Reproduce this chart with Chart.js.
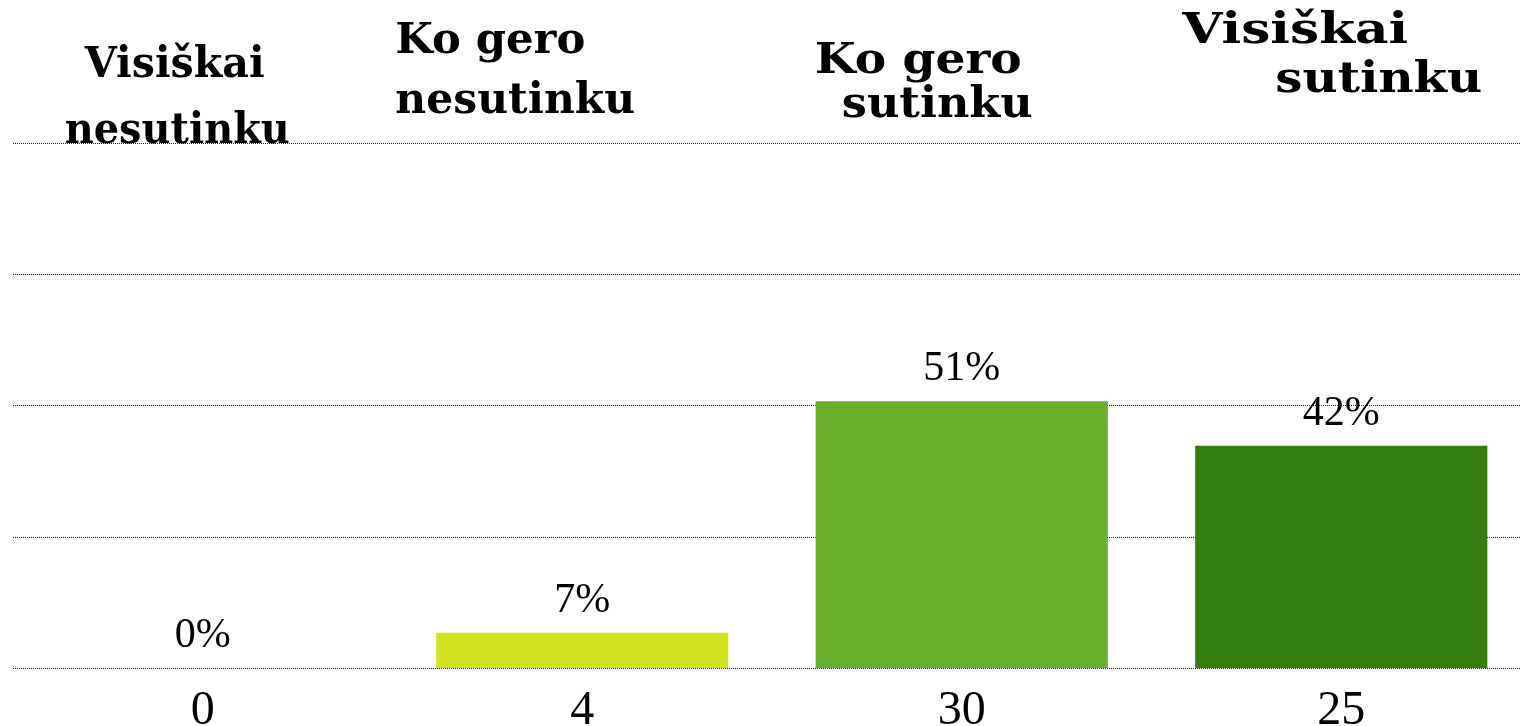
<!DOCTYPE html>
<html>
<head>
<meta charset="utf-8">
<script src="https://cdn.jsdelivr.net/npm/chart.js@4.4.1/dist/chart.umd.min.js"></script>
<style>
  html, body { margin: 0; padding: 0; overflow: hidden; background: #fff; }
  #wrap { position: absolute; left: 0; top: 0; width: 1531px; height: 760px; }
</style>
</head>
<body>
<div id="wrap"><canvas id="chart"></canvas></div>
<script>
// data
const categories = [['Visiškai', 'nesutinku'], ['Ko gero', 'nesutinku'], ['Ko gero', 'sutinku'], ['Visiškai', 'sutinku']];
const counts = [0, 4, 30, 25];
const percents = ['0%', '7%', '51%', '42%'];
const barColors = ['#9acd32', '#d2e41f', '#6ab02a', '#337e0f'];
// axis goes up to the total answers (100%), gridline every 25%
const total = counts.reduce((a, b) => a + b, 0);

// where each header line sits, relative to category centre and plot top
const headerLayout = [
    [{dx: -118, dy: -66, w: 180}, {dx: -138, dy: 0, w: 225}],
    [{dx: -187, dy: -90, w: 190}, {dx: -187, dy: -30, w: 240}],
    [{dx: -147, dy: -70, w: 207}, {dx: -120, dy: -26, w: 191}],
    [{dx: -159, dy: -100, w: 226}, {dx: -66, dy: -51, w: 207}]
];

const labelPlugin = {
    id: 'labelPlugin',
    afterDraw(chart) {
        const ctx = chart.ctx;
        const xScale = chart.scales.x;
        const top = chart.chartArea.top;
        ctx.save();
        ctx.fillStyle = '#000';
        ctx.textBaseline = 'alphabetic';
        // category names on top
        ctx.font = 'bold 42px "DejaVu Serif"';
        categories.forEach((lines, i) => {
            const cx = xScale.getPixelForValue(i);
            lines.forEach((txt, j) => {
                const l = headerLayout[i][j];
                const m = ctx.measureText(txt).width;
                ctx.save();
                ctx.translate(cx + l.dx, top + l.dy);
                ctx.scale(l.w / m, 1);
                ctx.textAlign = 'left';
                ctx.fillText(txt, 0, 0);
                ctx.restore();
            });
        });
        // percent above each bar
        ctx.font = '42px "Liberation Serif"';
        ctx.textAlign = 'center';
        const bars = chart.getDatasetMeta(0).data;
        bars.forEach((bar, i) => {
            ctx.fillText(percents[i], bar.x, bar.y - 21);
        });
        ctx.restore();
    }
};

const ctx = document.getElementById('chart').getContext('2d');
const chart = new Chart(ctx, {
    type: 'bar',
    data: {
        labels: counts.map(String),
        datasets: [{
            data: counts,
            backgroundColor: barColors,
            borderWidth: 0,
            barPercentage: 0.77,
            categoryPercentage: 1
        }]
    },
    options: {
        responsive: true,
        maintainAspectRatio: false,
        animation: false,
        devicePixelRatio: 1,
        layout: { padding: { top: 143, left: 13, right: 0, bottom: 5 } },
        plugins: {
            legend: { display: false },
            tooltip: { enabled: false }
        },
        scales: {
            x: {
                grid: { display: false, drawTicks: false },
                border: { display: false },
                ticks: {
                    color: '#000',
                    padding: 14.5,
                    font: { family: '"Liberation Serif"', size: 48 }
                }
            },
            y: {
                min: 0,
                max: total,
                ticks: { display: false, stepSize: total / 4 },
                border: { display: false },
                grid: { color: '#222', lineWidth: 1, drawTicks: false }
            }
        }
    },
    plugins: [labelPlugin]
});
// dotted gridlines
chart.options.scales.y.border.dash = [1, 1];
chart.update();
</script>
</body>
</html>
